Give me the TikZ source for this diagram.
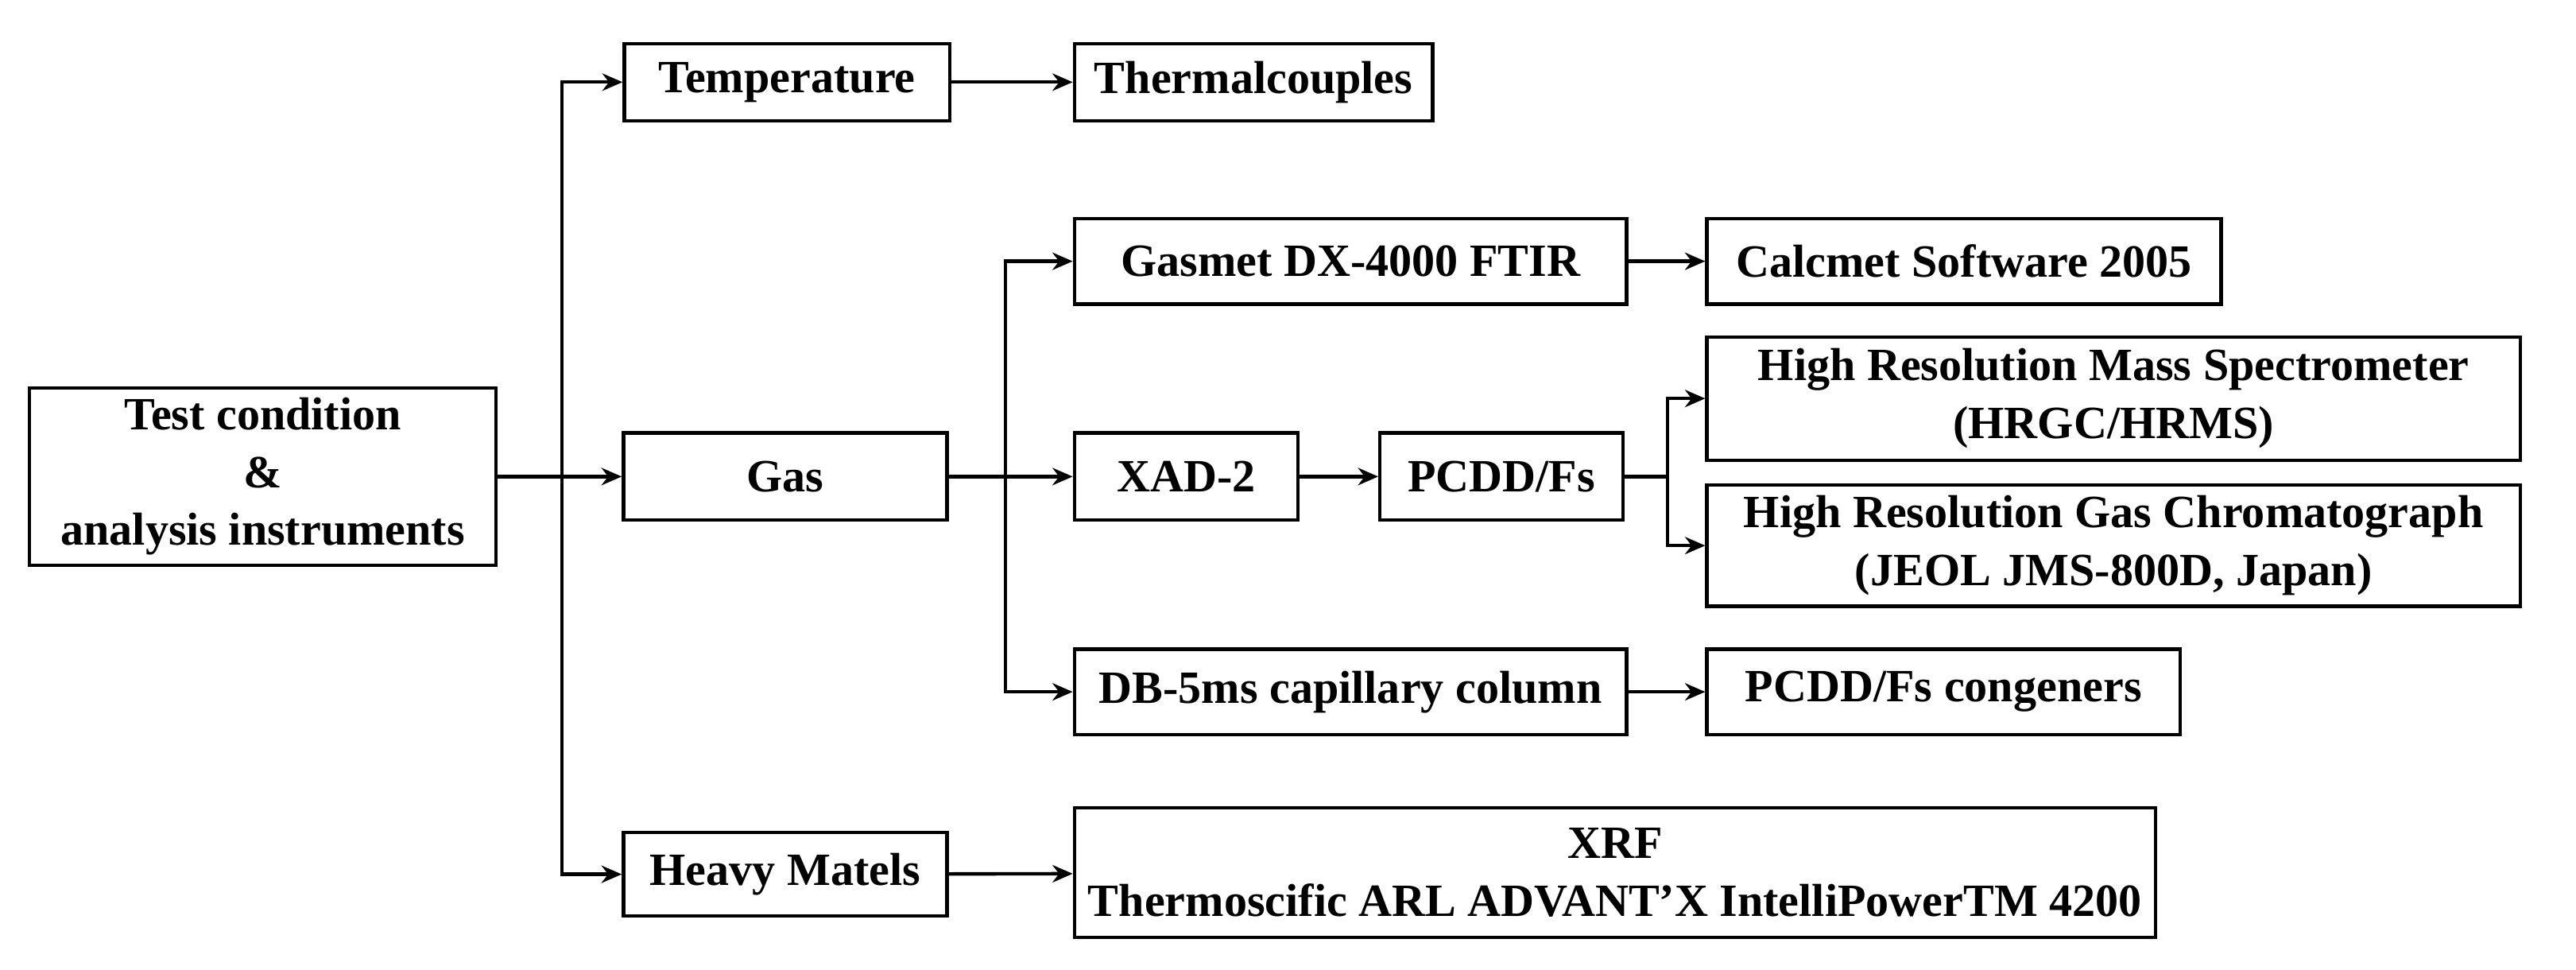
\documentclass[tikz,border=0pt]{standalone}
\usepackage{fontspec}
\setmainfont{Liberation Serif}
\usetikzlibrary{arrows.meta}
\tikzset{
  box/.style={draw, line width=0.6pt, font=\fontsize{8}{10}\selectfont\bfseries, align=center, inner sep=1pt},
  arr/.style={line width=0.6pt, -{Stealth[length=3.5pt,width=3pt]}},
  ln/.style={line width=0.6pt}
}
\begin{document}
\begin{tikzpicture}
    \useasboundingbox (0,0) rectangle (15.68,5.90);

    % left column
    \node[box, minimum width=2.84cm, minimum height=1.08cm] (test) at (1.60,3.00) {Test condition\\\&\\analysis instruments};

    % second column
    \node[box, minimum width=1.98cm, minimum height=0.47cm] (temp) at (4.79,5.40) {Temperature};
    \node[box, minimum width=1.97cm, minimum height=0.53cm] (gas) at (4.78,3.00) {Gas};
    \node[box, minimum width=1.97cm, minimum height=0.51cm] (heavy) at (4.78,0.58) {Heavy Matels};

    % third column
    \node[box, minimum width=2.18cm, minimum height=0.47cm] (thermo) at (7.63,5.40) {Thermalcouples};
    \node[box, minimum width=3.36cm, minimum height=0.52cm] (gasmet) at (8.22,4.31) {Gasmet DX-4000 FTIR};
    \node[box, minimum width=1.36cm, minimum height=0.53cm] (xad) at (7.22,3.00) {XAD-2};
    \node[box, minimum width=1.48cm, minimum height=0.53cm] (pcdd) at (9.14,3.00) {PCDD/Fs};
    \node[box, minimum width=3.36cm, minimum height=0.52cm] (db) at (8.22,1.69) {DB-5ms capillary column};
    \node[box, minimum width=6.58cm, minimum height=0.79cm] (xrf) at (9.83,0.59) {XRF\\Thermoscific ARL ADVANT'X IntelliPowerTM 4200};

    % right column
    \node[box, minimum width=3.13cm, minimum height=0.52cm] (calc) at (11.955,4.31) {Calcmet Software 2005};
    \node[box, minimum width=4.95cm, minimum height=0.75cm] (hrms) at (12.865,3.475) {High Resolution Mass Spectrometer\\(HRGC/HRMS)};
    \node[box, minimum width=4.95cm, minimum height=0.74cm] (hrgc) at (12.865,2.58) {High Resolution Gas Chromatograph\\(JEOL JMS-800D, Japan)};
    \node[box, minimum width=2.88cm, minimum height=0.52cm] (cong) at (11.83,1.69) {PCDD/Fs congeners};

    % junctions
    \coordinate (j1) at (3.42,3.00);
    \coordinate (j2) at (6.12,3.00);
    \coordinate (j3) at (10.15,3.00);

    % connectors
    \draw[ln] (test.east) -- (j1);
    \draw[arr] (j1) |- (temp.west);
    \draw[arr] (j1) -- (gas.west);
    \draw[arr] (j1) |- (heavy.west);
    \draw[arr] (temp) -- (thermo);
    \draw[arr] (heavy) -- (xrf);

    \draw[ln] (gas.east) -- (j2);
    \draw[arr] (j2) |- (gasmet.west);
    \draw[arr] (j2) -- (xad.west);
    \draw[arr] (j2) |- (db.west);
    \draw[arr] (gasmet) -- (calc);
    \draw[arr] (xad) -- (pcdd);
    \draw[arr] (db) -- (cong);

    \draw[ln] (pcdd.east) -- (j3);
    \draw[arr] (j3) |- (hrms.west);
    \draw[arr] (j3) |- (hrgc.west);

\end{tikzpicture}
\end{document}
